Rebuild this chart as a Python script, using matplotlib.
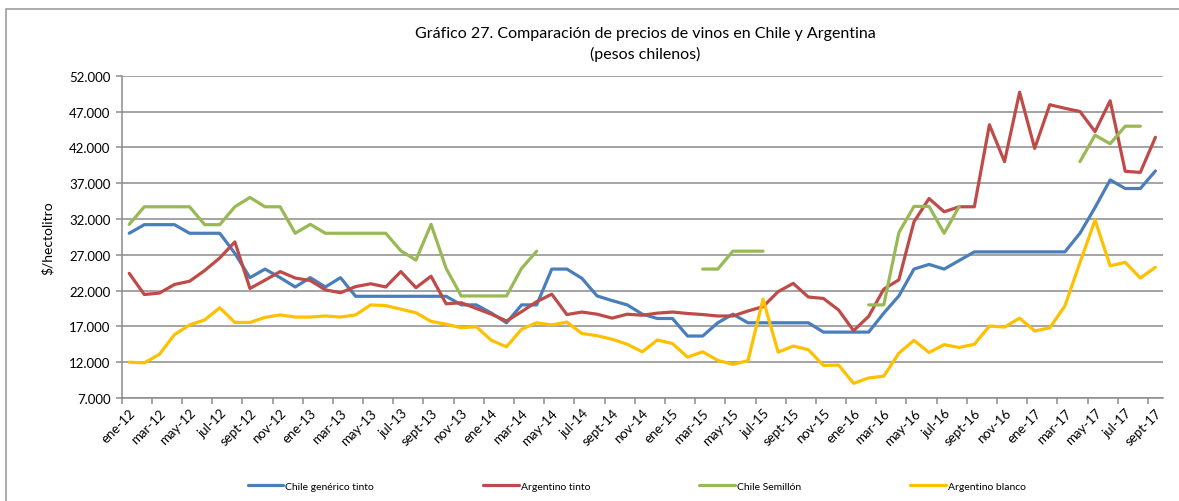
"""Gráfico 27 — comparación de precios de vinos en Chile y Argentina."""

import matplotlib
matplotlib.use("Agg")
import matplotlib.pyplot as plt
import numpy as np
from matplotlib.patches import Rectangle
from matplotlib.ticker import FuncFormatter

nan = np.nan

# ene-12 .. sept-17, one value per month ($/hectolitro)
MONTH_NAMES = ["ene", "feb", "mar", "abr", "may", "jun",
               "jul", "ago", "sept", "oct", "nov", "dic"]
YEARS = ["12", "13", "14", "15", "16", "17"]
N_MONTHS = 69

chile_generico_tinto = [
    30000, 31200, 31200, 31200, 30000, 30000, 30000, 27200, 23800, 25000,
    23800, 22500, 23800, 22500, 23800, 21200, 21200, 21200, 21200, 21200,
    21200, 21200, 20000, 20000, 18850, 17500, 20000, 20000, 25000, 25000,
    23700, 21250, 20600, 20000, 18700, 18100, 18100, 15650, 15650, 17500,
    18700, 17500, 17500, 17500, 17500, 17500, 16200, 16200, 16200, 16200,
    18850, 21250, 25000, 25650, 25000, 26200, 27400, 27400, 27400, 27400,
    27400, 27400, 27400, 30000, 33600, 37450, 36250, 36250, 38700,
]
argentino_tinto = [
    24400, 21450, 21650, 22850, 23300, 24800, 26550, 28800, 22300, 23450,
    24650, 23750, 23400, 22100, 21700, 22550, 22950, 22500, 24650, 22400,
    24000, 20150, 20300, 19500, 18700, 17750, 19050, 20450, 21500, 18650,
    19000, 18700, 18150, 18700, 18550, 18850, 19000, 18800, 18650, 18450,
    18450, 19150, 19750, 21850, 23000, 21100, 20900, 19300, 16400, 18400,
    22200, 23500, 31600, 34850, 33000, 33700, 33700, 45150, 40000, 49700,
    41850, 47950, 47450, 47000, 44200, 48500, 38650, 38500, 43400,
]
chile_semillon = [
    31250, 33700, 33700, 33700, 33700, 31200, 31200, 33700, 35000, 33700,
    33700, 30000, 31250, 30000, 30000, 30000, 30000, 30000, 27550, 26250,
    31250, 25100, 21250, 21250, 21250, 21250, 25100, 27500, nan, nan,
    nan, nan, nan, nan, nan, nan, nan, nan, 25000, 25000,
    27500, 27500, 27500, nan, nan, nan, nan, nan, nan, 20000,
    20000, 30100, 33750, 33750, 30000, 33750, nan, nan, nan, nan,
    nan, nan, nan, 40000, 43700, 42500, 44950, 44950, nan,
]
argentino_blanco = [
    12000, 11900, 13100, 15850, 17200, 17900, 19600, 17550, 17550, 18250,
    18600, 18300, 18300, 18450, 18300, 18600, 20000, 19900, 19400, 18900,
    17700, 17300, 16800, 16950, 15050, 14150, 16600, 17500, 17200, 17600,
    16000, 15700, 15200, 14500, 13450, 15100, 14600, 12700, 13450, 12250,
    11700, 12200, 20800, 13400, 14250, 13750, 11550, 11600, 9050, 9800,
    10050, 13250, 15050, 13350, 14450, 14050, 14500, 17050, 16900, 18150,
    16350, 16800, 19850, 25900, 31850, 25450, 25950, 23750, 25250,
]

SERIES = [
    ("Chile genérico tinto", chile_generico_tinto, "#4A7EBB"),
    ("Argentino tinto", argentino_tinto, "#BE4B48"),
    ("Chile Semillón", chile_semillon, "#98B954"),
    ("Argentino blanco", argentino_blanco, "#FFC000"),
]

Y_TICKS = [7000, 12000, 17000, 22000, 27000, 32000, 37000, 42000, 47000, 52000]

FONT = ["Lato", "DejaVu Sans"]
GRID = "#8C8C8C"


def _thousands(v, _pos):
    return f"{v:,.0f}".replace(",", ".")


def main():
    plt.rcParams["font.family"] = FONT

    labels = [f"{m}-{y}" for y in YEARS for m in MONTH_NAMES][:N_MONTHS]
    x = np.arange(N_MONTHS)

    fig = plt.figure(figsize=(11.79, 5.02), dpi=100)
    ax = fig.add_axes([0.1032, 0.2052, 0.8832, 0.642])

    for name, values, color in SERIES:
        ax.plot(x, values, color=color, lw=2.3, label=name,
                solid_joinstyle="round", solid_capstyle="round")

    ax.set_xlim(-0.5, N_MONTHS - 0.5)
    ax.set_ylim(Y_TICKS[0], Y_TICKS[-1])
    ax.set_yticks(Y_TICKS)
    ax.yaxis.set_major_formatter(FuncFormatter(_thousands))
    ax.grid(axis="y", color=GRID, lw=1.1)
    ax.set_axisbelow(True)

    ax.set_xticks(x[::2])
    ax.set_xticklabels(labels[::2], rotation=45, ha="right",
                       rotation_mode="anchor", fontsize=9.5)
    ax.set_xticks(np.arange(-0.5, N_MONTHS, 2), minor=True)
    ax.tick_params(axis="x", which="major", length=0, pad=6)
    ax.tick_params(axis="x", which="minor", length=4, color=GRID, width=1.1)
    ax.tick_params(axis="y", length=4, color=GRID, width=1.1, labelsize=9.5, pad=4)

    for side in ("top", "right"):
        ax.spines[side].set_visible(False)
    for side in ("left", "bottom"):
        ax.spines[side].set_color(GRID)
        ax.spines[side].set_linewidth(1.1)

    ax.set_ylabel("$/hectolitro", fontsize=10, labelpad=11)

    fig.text(0.547, 0.911, "Gráfico 27. Comparación de precios de vinos en Chile y Argentina\n"
             "(pesos chilenos)", ha="center", va="center", fontsize=11.5,
             linespacing=1.45)

    fig.legend(loc="center", bbox_to_anchor=(0.54, 0.03), ncol=4, frameon=False,
               fontsize=7.5, handlelength=3.4, handletextpad=0.2,
               columnspacing=10.5)

    # chart-area frame (left and top edges visible)
    fig.patches.append(Rectangle((6 / 1179, -0.5), 2.0, 1.5 - 10 / 502,
                                 transform=fig.transFigure, fill=False,
                                 edgecolor="#A6A6A6", lw=1.3))

    fig.savefig("out.png", dpi=100)
    plt.close(fig)


if __name__ == "__main__":
    main()
